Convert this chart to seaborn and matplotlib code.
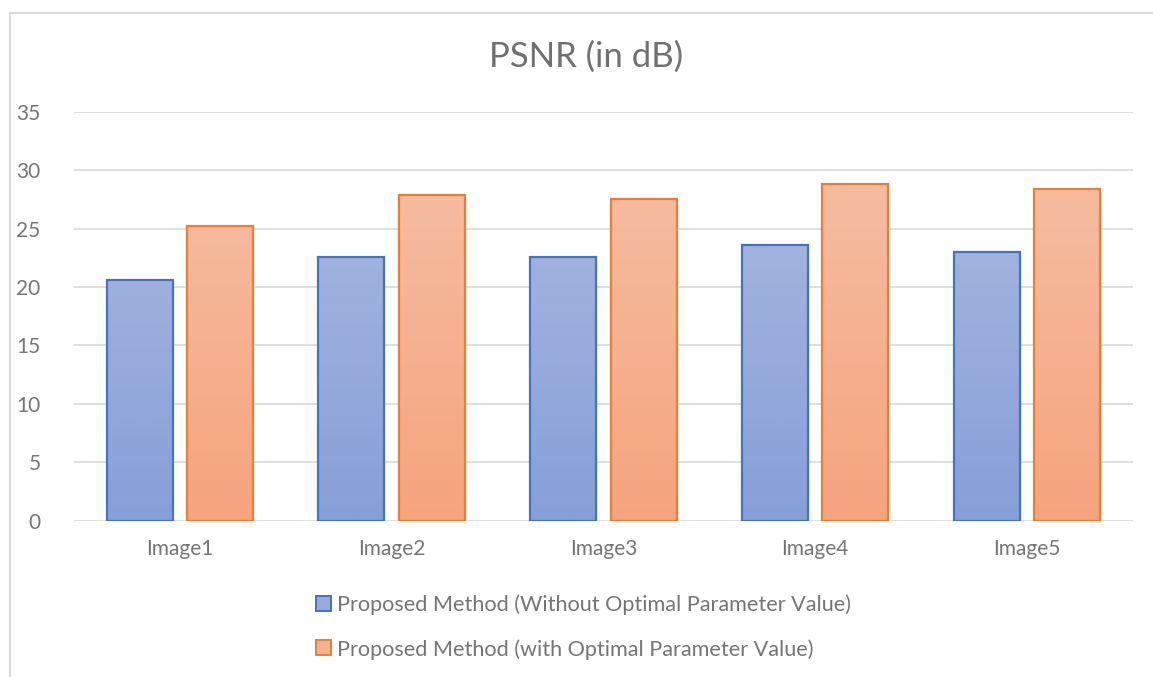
import numpy as np
import pandas as pd
import matplotlib
matplotlib.use("Agg")
import matplotlib.pyplot as plt
import seaborn as sns
from matplotlib.patches import Patch, Rectangle
from matplotlib.colors import LinearSegmentedColormap

images = ["Image1", "Image2", "Image3", "Image4", "Image5"]
without_opt = [20.6, 22.6, 22.6, 23.6, 23.0]
with_opt = [25.2, 27.9, 27.5, 28.85, 28.4]
series = ["Proposed Method (Without Optimal Parameter Value)",
          "Proposed Method (with Optimal Parameter Value)"]

df = pd.DataFrame({
    "Image": images * 2,
    "PSNR": without_opt + with_opt,
    "Method": [series[0]] * len(images) + [series[1]] * len(images),
})

sns.set_style("white")
plt.rcParams["font.family"] = ["Lato", "DejaVu Sans"]
txt = "#757575"

edge_cols = ["#4472C4", "#ED7D31"]
grad_cols = [("#A9B8E0", "#879FD8"), ("#F6BDA2", "#F5A47E")]

fig = plt.figure(figsize=(11.53, 6.77), dpi=100)
ax = fig.add_axes([0.0642, 0.2309, 0.9182, 0.6041])

sns.barplot(data=df, x="Image", y="PSNR", hue="Method", hue_order=series,
            palette=edge_cols, width=0.76, gap=0.18, ax=ax, legend=False,
            errorbar=None, zorder=3)

ax.set_ylim(0, 35)
ax.set_yticks(range(0, 36, 5))
ax.set_xlim(-0.5, 4.5)
ax.yaxis.grid(True, color="#d9d9d9", lw=1.2, zorder=0)
ax.set_axisbelow(True)
for s in ax.spines.values():
    s.set_visible(False)
ax.tick_params(length=0, labelsize=15, colors=txt)
ax.tick_params(axis="y", pad=24)
ax.tick_params(axis="x", pad=13)
ax.set_xlabel("")
ax.set_ylabel("")

# gradient fill clipped to each bar
for i, bar in enumerate(ax.patches):
    k = i // len(images)
    top, bot = grad_cols[k]
    cmap = LinearSegmentedColormap.from_list("g%d" % k, [bot, top])
    x0, y0 = bar.get_x(), bar.get_y()
    w, h = bar.get_width(), bar.get_height()
    grad = np.linspace(0, 1, 256).reshape(-1, 1) * (h / 30.0)
    im = ax.imshow(grad, extent=[x0, x0 + w, y0, y0 + h], origin="lower",
                   aspect="auto", cmap=cmap, vmin=0, vmax=1, zorder=3)
    im.set_clip_path(bar)
    bar.set_facecolor("none")
    bar.set_edgecolor(edge_cols[k])
    bar.set_linewidth(1.6)
    bar.set_zorder(4)
ax.set_xlim(-0.5, 4.5)
ax.set_ylim(0, 35)
ax.set_aspect("auto")

fig.text(586 / 1153, 1 - 57 / 677, "PSNR (in dB)", ha="center", va="center",
         fontsize=25, color="#707070")

handles = [Patch(facecolor=np.mean([matplotlib.colors.to_rgb(c) for c in g], axis=0),
                 edgecolor=e, lw=1.4) for g, e in zip(grad_cols, edge_cols)]
fig.legend(handles, series, loc="center", bbox_to_anchor=(0.506, 1 - 627 / 677),
           frameon=False, fontsize=15.6, labelcolor=txt, handlelength=0.68,
           handleheight=0.68, handletextpad=0.3, labelspacing=1.1)

fig.patches.append(Rectangle((10 / 1153, -0.1), 1.2, 1 - 13 / 677 + 0.1,
                             transform=fig.transFigure, fill=False,
                             edgecolor="#d9d9d9", lw=1.5))

fig.savefig("out.png", dpi=100)
